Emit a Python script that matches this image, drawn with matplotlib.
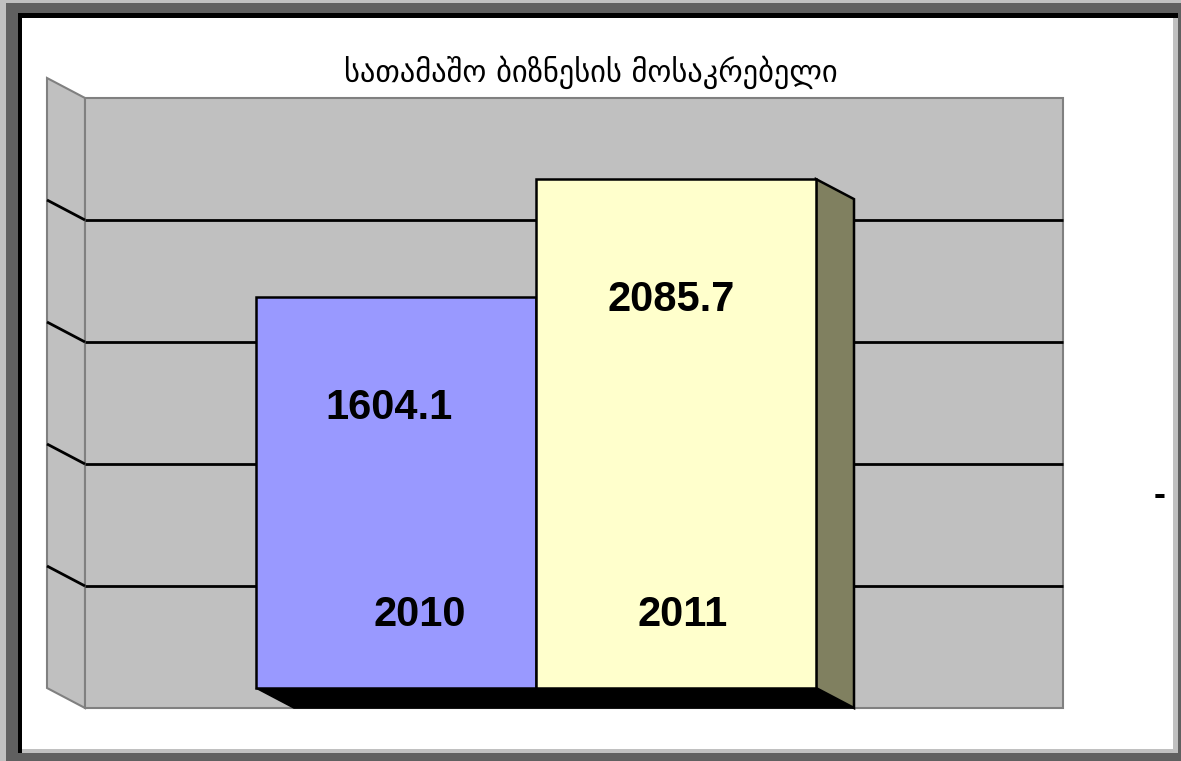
import numpy as np
import matplotlib.pyplot as plt
from matplotlib.patches import Polygon, Rectangle

# data
title = "სათამაშო ბიზნესის მოსაკრებელი"
years = ["2010", "2011"]
values = [1604.1, 2085.7]
bar_colors = ["#9999FF", "#FFFFCC"]
y_max = 2500
y_step = 500

W, H = 1181, 761
fig = plt.figure(figsize=(W / 100, H / 100), dpi=100)
fig.patch.set_facecolor("white")


def frect(x0, y0, x1, y1, color):
    # rectangle in pixel coords (top-left origin) on the figure
    fig.patches.append(Rectangle((x0 / W, 1 - y1 / H), (x1 - x0) / W, (y1 - y0) / H,
                                 transform=fig.transFigure, facecolor=color,
                                 edgecolor="none", zorder=-5))


# window-like frame
frect(0, 0, W, H, "#606060")
frect(0, 0, W, 3, "#C0C0C0")
frect(0, 0, 6, H, "#C0C0C0")
frect(18, 13, 1178, 753, "#000000")
frect(22, 18, 1178, 753, "#C0C0C0")
frect(22, 18, 1173, 749, "#FFFFFF")

# front plane of the 3d box
ax = fig.add_axes([47 / W, (H - 688) / H, 978 / W, 610 / H])
ax.set_xlim(0, 1)
ax.set_ylim(0, y_max)
ax.axis("off")

# depth offset (data units)
DX = 38 / 978
DY = -20 / 610 * y_max

wall = "#C0C0C0"
wall_edge = "#808080"

# side wall
ax.add_patch(Polygon([(0, 0), (DX, DY), (DX, y_max + DY), (0, y_max)],
                     facecolor=wall, edgecolor=wall_edge, lw=1.5, clip_on=False, zorder=1))
# back wall
ax.add_patch(Rectangle((DX, DY), 1, y_max, facecolor=wall, edgecolor=wall_edge,
                       lw=1.5, clip_on=False, zorder=1))

# gridlines
for v in np.arange(y_step, y_max, y_step):
    ax.plot([DX, 1 + DX], [v + DY, v + DY], color="black", lw=2, clip_on=False,
            solid_capstyle="butt", zorder=2)
    ax.plot([0, DX], [v, v + DY], color="black", lw=2, clip_on=False,
            solid_capstyle="butt", zorder=2)

# bars
bw = 280 / 978
xs = [0.5 - bw / 2, 0.5 + bw / 2]
ax.bar(xs, values, width=bw, color=bar_colors, edgecolor="black", lw=1.8, zorder=5, clip_on=False)

x0 = xs[0] - bw / 2
x1 = xs[-1] + bw / 2
# bottom face
ax.add_patch(Polygon([(x0, 0), (x1, 0), (x1 + DX, DY), (x0 + DX, DY)],
                     facecolor="black", edgecolor="black", lw=1.2, clip_on=False, zorder=4))
# right side face of last bar
ax.add_patch(Polygon([(x1, values[-1]), (x1 + DX, values[-1] + DY), (x1 + DX, DY), (x1, 0)],
                     facecolor="#808060", edgecolor="black", lw=1.8, clip_on=False, zorder=4))

# labels
val_pos = [(0.35, 0.716), (0.638, 0.762)]
for (lx, fy), v in zip(val_pos, values):
    ax.text(lx, v * fy, f"{v:.1f}", ha="center", va="center", fontsize=30,
            fontweight="bold", family="Liberation Sans", zorder=6)
year_x = [0.381, 0.650]
for lx, yr in zip(year_x, years):
    ax.text(lx, 300, yr, ha="center", va="center", fontsize=30,
            fontweight="bold", family="Liberation Sans", zorder=6)

fig.text(591 / W, 1 - 72 / H, title, ha="center", va="center", fontsize=22,
         family=["DejaVu Sans"])
fig.text(1160 / W, 1 - 496 / H, "-", ha="center", va="center", fontsize=26,
         fontweight="bold", family="Liberation Sans")

fig.savefig("out.png", dpi=100)
